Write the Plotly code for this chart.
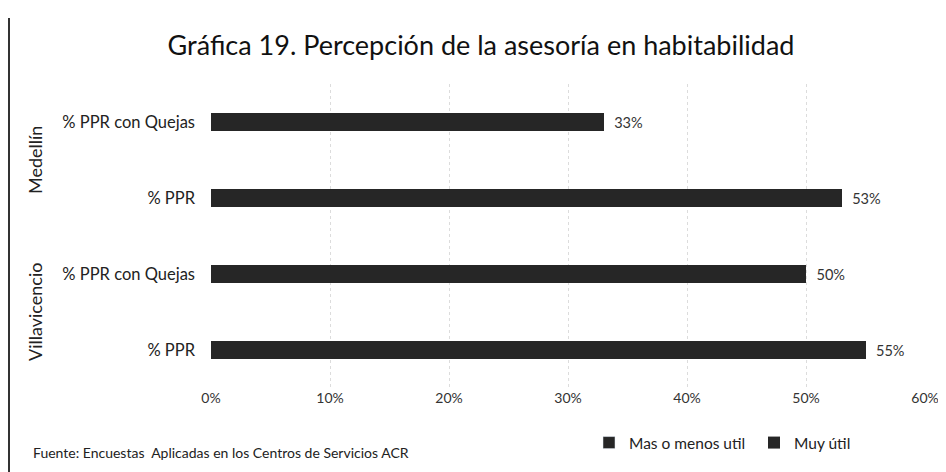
import plotly.graph_objects as go

# ---- data ----
groups = ["Medellín", "Medellín", "Villavicencio", "Villavicencio"]
categories = ["% PPR con Quejas", "% PPR", "% PPR con Quejas", "% PPR"]
muy_util = [33, 53, 50, 55]          # bar totals
mas_o_menos = [0, 0, 0, 0]           # not distinguishable in the picture
series_names = ["Mas o menos util", "Muy útil"]
x_ticks = [0, 10, 20, 30, 40, 50, 60]
x_tick_labels = [f"{t}%" for t in x_ticks]
title = "Gráfica 19. Percepción de la asesoría en habitabilidad"
source = "Fuente: Encuestas  Aplicadas en los Centros de Servicios ACR"

FONT = "Lato, 'Open Sans', sans-serif"
BAR = "#262626"

W, H = 946, 472
OFF = 8  # page body margin: figure is drawn 8px right/down on screen
# plot area in screen pixels
SL, SR, ST, SB = 211, 925, 84, 388
L, T = SL - OFF, ST - OFF
R, B = W - (SR - OFF), H - (SB - OFF)
pw = W - L - R
ph = H - T - B

def px_x(xs):
    return (xs - OFF - L) / pw

def px_y(ys):
    return (H - B - (ys - OFF)) / ph

idx = list(range(len(categories)))

fig = go.Figure()
fig.add_trace(go.Bar(
    y=idx, x=mas_o_menos, orientation="h", name=series_names[0],
    marker=dict(color=BAR), width=0.23, hoverinfo="skip",
))
fig.add_trace(go.Bar(
    y=idx, x=muy_util, orientation="h", name=series_names[1],
    marker=dict(color=BAR, line=dict(width=0)), width=0.23,
    text=[f"\u00a0\u00a0{v}%" for v in muy_util], textposition="outside",
    textfont=dict(size=15, color="#333333", family=FONT),
    cliponaxis=False,
))

# group labels (rotated)
for g in dict.fromkeys(groups):
    pos = [i for i, gg in enumerate(groups) if gg == g]
    fig.add_annotation(
        x=px_x(35), xref="paper", xanchor="center",
        y=sum(pos) / len(pos), yref="y", yanchor="middle",
        text=g, textangle=-90, showarrow=False,
        font=dict(size=18, color="#222222", family=FONT),
    )

# source note
fig.add_annotation(
    x=px_x(31), xref="paper", xanchor="left",
    y=px_y(452), yref="paper", yanchor="middle",
    text=source, showarrow=False,
    font=dict(size=14, color="#222222", family=FONT),
)

# scan border on the left
fig.add_shape(type="line", xref="paper", yref="paper",
              x0=px_x(9), x1=px_x(9), y0=px_y(18), y1=px_y(480),
              line=dict(color="#333333", width=2))

fig.update_layout(
    width=W, height=H,
    margin=dict(l=L, r=R, t=T, b=B, autoexpand=False),
    paper_bgcolor="white", plot_bgcolor="white",
    barmode="stack",
    title=dict(text=title, x=0.5, xref="container", xanchor="center",
               y=1 - (46 - OFF) / H, yanchor="middle",
               font=dict(size=27, color="#111111", family=FONT)),
    font=dict(family=FONT, color="#222222"),
    xaxis=dict(range=[0, 60], tickvals=x_ticks, ticktext=x_tick_labels,
               showgrid=True, gridcolor="#dcdcdc", griddash="dot", gridwidth=1,
               zeroline=False, showline=False, ticks="", automargin=False,
               tickfont=dict(size=14, color="#333333", family=FONT)),
    yaxis=dict(range=[len(categories) - 0.5, -0.5], tickvals=idx,
               ticktext=categories, showgrid=False, zeroline=False,
               showline=False, ticks="", ticklabelstandoff=15, automargin=False,
               tickfont=dict(size=16.5, color="#222222", family=FONT)),
    legend=dict(orientation="h", x=px_x(589), xanchor="left",
                y=px_y(443), yanchor="middle",
                font=dict(size=15.5, color="#222222", family=FONT),
                entrywidth=120, entrywidthmode="pixels",
                itemwidth=30, tracegroupgap=0, traceorder="normal"),
    showlegend=True,
)

fig.write_html("out.html")
